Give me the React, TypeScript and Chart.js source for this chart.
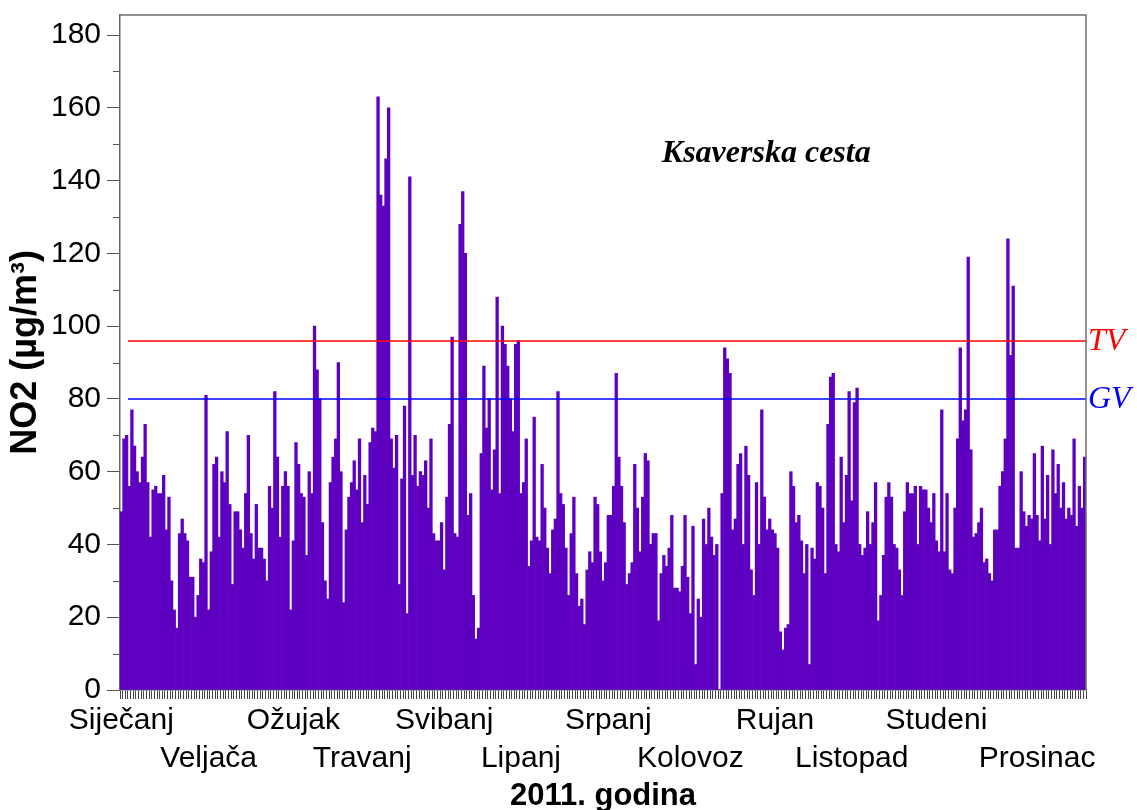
import React, { useEffect, useRef } from 'react';
import { Chart, registerables } from 'chart.js';

Chart.register(...registerables);

// Daily NO2 concentrations (µg/m³), Ksaverska cesta, 2011
const jan = [49, 69, 70, 56, 77, 67, 60, 57, 64, 73, 57, 42, 55, 56, 54, 54, 59, 44, 53, 30, 22, 17, 43, 47, 43, 41, 31, 31, 20, 26, 36];
const feb = [35, 81, 22, 38, 62, 64, 42, 60, 57, 71, 51, 29, 49, 49, 44, 39, 54, 70, 43, 36, 51, 39, 39, 36, 30, 56, 50, 82];
const mar = [64, 42, 56, 60, 56, 22, 41, 68, 62, 54, 53, 37, 60, 54, 100, 88, 80, 46, 30, 25, 57, 64, 69, 90, 60, 24, 44, 53, 57, 63, 55];
const apr = [69, 46, 59, 51, 68, 72, 71, 163, 136, 133, 146, 160, 69, 61, 70, 29, 58, 78, 21, 141, 59, 70, 56, 60, 59, 63, 50, 69, 43, 41];
const may = [41, 46, 33, 53, 73, 97, 43, 42, 128, 137, 120, 48, 54, 26, 14, 17, 65, 89, 72, 80, 55, 66, 108, 54, 100, 95, 89, 80, 71, 95, 96];
const jun = [54, 57, 69, 34, 41, 75, 42, 41, 62, 50, 39, 32, 44, 47, 82, 54, 51, 39, 26, 43, 53, 32, 23, 25, 18, 33, 38, 35, 53, 51];
const jul = [38, 30, 35, 48, 48, 56, 87, 64, 56, 46, 29, 32, 35, 62, 50, 38, 53, 65, 63, 40, 43, 43, 19, 32, 37, 34, 39, 48, 28, 28, 27];
const aug = [34, 48, 31, 21, 45, 7, 25, 20, 47, 40, 50, 42, 37, 40, 0, 54, 94, 91, 87, 44, 47, 62, 65, 40, 67, 59, 33, 26, 57, 40, 77];
const sep = [53, 44, 47, 44, 43, 39, 16, 11, 17, 18, 60, 56, 46, 48, 41, 32, 40, 7, 39, 36, 57, 56, 50, 32, 73, 86, 87, 40, 38, 64];
const oct = [46, 59, 82, 52, 79, 83, 40, 37, 39, 49, 40, 46, 57, 19, 26, 37, 53, 57, 53, 40, 39, 33, 26, 49, 57, 54, 54, 56, 40, 56, 55];
const nov = [55, 50, 46, 54, 41, 38, 77, 38, 54, 33, 32, 50, 69, 94, 74, 77, 119, 66, 42, 43, 46, 50, 35, 36, 32, 30, 44, 44, 56, 60];
const dec = [69, 124, 92, 111, 39, 39, 60, 49, 45, 48, 47, 65, 48, 41, 67, 47, 59, 40, 66, 54, 62, 50, 57, 47, 50, 48, 69, 45, 56, 50, 64];

const monthNames = ['Siječanj', 'Veljača', 'Ožujak', 'Travanj', 'Svibanj', 'Lipanj', 'Srpanj', 'Kolovoz', 'Rujan', 'Listopad', 'Studeni', 'Prosinac'];
// day-of-year under which each month name is written
const monthLabelDay = [0, 33, 65, 91, 122, 151, 184, 215, 247, 276, 308, 346];
const yMajorTicks = [0, 20, 40, 60, 80, 100, 120, 140, 160, 180];
const yMinorTicks = [10, 30, 50, 70, 90, 110, 130, 150, 170];
const limitTV = 96;
const limitGV = 80;
const stationName = 'Ksaverska cesta';
const yTitle = 'NO2 (µg/m³)';
const xTitle = '2011. godina';

const SANS = '"Liberation Sans", Arial, sans-serif';
const SERIF = '"Liberation Serif", "Times New Roman", serif';

export default function App() {
  const ref = useRef<HTMLCanvasElement | null>(null);

  useEffect(() => {
    document.body.style.margin = '0';
    const canvas = ref.current;
    if (!canvas) return;
    const months = [jan, feb, mar, apr, may, jun, jul, aug, sep, oct, nov, dec];
    const values = months.flat();
    const labels = values.map((_, i) => String(i));
    const labelAt: Record<number, number> = {};
    monthLabelDay.forEach((d, k) => {
      labelAt[d] = k;
    });

    const overlay = {
      id: 'overlay',
      afterDatasetsDraw(chart: any) {
        const { ctx, chartArea: a, scales } = chart;
        const y = scales.y;
        ctx.save();
        const lims: [number, string, string][] = [
          [limitTV, 'rgb(255,0,0)', 'TV'],
          [limitGV, 'rgb(0,0,255)', 'GV'],
        ];
        lims.forEach(([v, c, t]) => {
          const py = Math.round(y.getPixelForValue(v));
          ctx.strokeStyle = c;
          ctx.lineWidth = 1.5;
          ctx.beginPath();
          ctx.moveTo(a.left + 8, py);
          ctx.lineTo(a.right, py);
          ctx.stroke();
          ctx.fillStyle = c;
          ctx.font = 'italic 32px ' + SERIF;
          ctx.textBaseline = 'middle';
          ctx.textAlign = 'left';
          ctx.fillText(t, a.right + 2, py + 1);
        });
        // frame top & right
        ctx.strokeStyle = '#6e6e6e';
        ctx.lineWidth = 1.5;
        ctx.beginPath();
        ctx.moveTo(a.left, a.top);
        ctx.lineTo(a.right, a.top);
        ctx.lineTo(a.right, a.bottom);
        ctx.stroke();
        // minor y ticks
        ctx.strokeStyle = '#555';
        ctx.lineWidth = 1;
        yMinorTicks.forEach((v) => {
          const py = Math.round(y.getPixelForValue(v)) + 0.5;
          ctx.beginPath();
          ctx.moveTo(a.left - 7, py);
          ctx.lineTo(a.left, py);
          ctx.stroke();
        });
        // station name
        ctx.fillStyle = '#000';
        ctx.font = 'bold italic 32px ' + SERIF;
        ctx.textAlign = 'center';
        ctx.textBaseline = 'middle';
        ctx.fillText(stationName, a.left + 0.669 * (a.right - a.left), y.getPixelForValue(147.5));
        ctx.restore();
      },
    };

    const chart = new Chart(canvas, {
      type: 'bar',
      data: {
        labels,
        datasets: [
          {
            data: values,
            backgroundColor: '#5e00c0',
            borderWidth: 0,
            barPercentage: 1,
            categoryPercentage: 1,
          },
        ],
      },
      options: {
        responsive: false,
        animation: false,
        devicePixelRatio: 1,
        layout: { padding: { top: 15, right: 51, left: 0, bottom: 0 } },
        plugins: { legend: { display: false }, tooltip: { enabled: false } },
        scales: {
          x: {
            type: 'category',
            offset: true,
            afterFit: (s: any) => {
              s.height = 120;
            },
            ticks: {
              autoSkip: false,
              maxRotation: 0,
              minRotation: 0,
              padding: 3,
              color: '#000',
              font: { family: SANS, size: 30, lineHeight: 1.27 },
              callback: (_v: any, i: number) => {
                const k = labelAt[i];
                if (k === undefined) return '';
                return k % 2 === 0 ? [monthNames[k]] : ['', monthNames[k]];
              },
            },
            grid: { drawOnChartArea: false, tickLength: 9, color: '#444', offset: true },
            border: { color: '#666', width: 1.5 },
            title: {
              display: true,
              text: xTitle,
              color: '#000',
              font: { family: SANS, size: 31, weight: 'bold', lineHeight: 1 },
              padding: { top: 0, bottom: -2 },
            },
          },
          y: {
            min: 0,
            max: 185.5,
            afterBuildTicks: (s: any) => {
              s.ticks = yMajorTicks.map((v) => ({ value: v }));
            },
            afterFit: (s: any) => {
              s.width = 120;
              s.paddingTop = 0;
              s.paddingBottom = 0;
            },
            ticks: {
              color: '#000',
              padding: 6,
              font: { family: SANS, size: 30 },
            },
            grid: { drawOnChartArea: false, tickLength: 13, color: '#555' },
            border: { color: '#666', width: 1.5 },
            title: {
              display: true,
              text: yTitle,
              color: '#000',
              font: { family: SANS, size: 36, weight: 'bold', lineHeight: 1.1 },
              padding: { top: 6, bottom: 0 },
            },
          },
        },
      },
      plugins: [overlay],
    });
    return () => chart.destroy();
  }, []);

  return (
    <div style={{ position: 'absolute', left: 0, top: 0, width: 1137, height: 810 }}>
      <canvas ref={ref} width={1137} height={810} style={{ width: 1137, height: 810 }} />
    </div>
  );
}
